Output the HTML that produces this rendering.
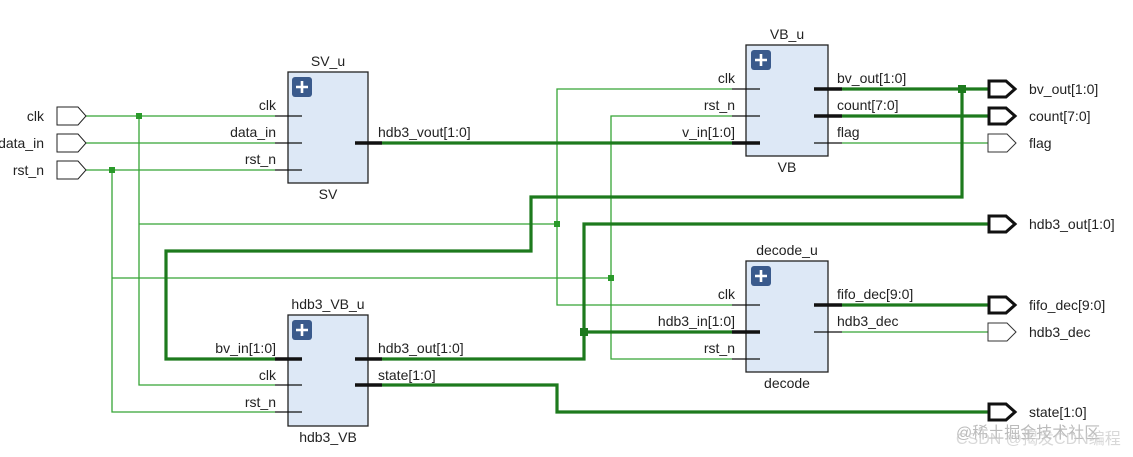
<!DOCTYPE html>
<html><head><meta charset="utf-8"><style>
html,body{margin:0;padding:0;background:#fff;}
svg{display:block}
text{font-family:"Liberation Sans","Noto Sans CJK SC",sans-serif;font-size:14px;fill:#222}
.t{stroke:#35a535;stroke-width:1.3;fill:none}
.T{stroke:#1d7a1d;stroke-width:3.2;fill:none}
.pin{stroke:#111;stroke-width:1.2}
.PIN{stroke:#111;stroke-width:3.5}
.box{fill:#dde8f6;stroke:#222;stroke-width:1.3}
.r{text-anchor:end}
.m{text-anchor:middle}
</style></head><body>
<svg width="1133" height="457" viewBox="0 0 1133 457" xmlns="http://www.w3.org/2000/svg">
<defs>
<g id="plus"><rect x="0" y="0" width="20" height="20" rx="3" fill="#3a5a8c"/><path d="M10 4v12M4 10h12" stroke="#fff" stroke-width="2.6"/></g>
</defs>

<path class="t" d="M86 116H275M86 143H275M86 170H275"/>
<path class="t" d="M139 116V385H275"/>
<path class="t" d="M112 170V412H275"/>
<path class="t" d="M139 224H557"/>
<path class="t" d="M112 278H611"/>
<path class="t" d="M732 89H557V305H732"/>
<path class="t" d="M732 116H611V359H732"/>
<path class="t" d="M842 143H988"/>
<path class="t" d="M842 332H988"/>
<path class="T" d="M382 143H732"/>
<path class="T" d="M842 89H988"/>
<path class="T" d="M842 116H988"/>
<path class="T" d="M962 89V197H531V251H166V359H275"/>
<path class="T" d="M382 359H584V224H988"/>
<path class="T" d="M584 332H732"/>
<path class="T" d="M382 385H557V412H988"/>
<path class="T" d="M842 305H988"/>
<rect x="136" y="113" width="6" height="6" fill="#2a9a2a"/>
<rect x="109" y="167" width="6" height="6" fill="#2a9a2a"/>
<rect x="554" y="221" width="6" height="6" fill="#2a9a2a"/>
<rect x="608" y="275" width="6" height="6" fill="#2a9a2a"/>
<rect x="958" y="85" width="8" height="8" fill="#1d7a1d"/>
<rect x="580" y="328" width="8" height="8" fill="#1d7a1d"/>

<g fill="#fff" stroke="#222" stroke-width="1">
<path d="M57 107H78L86 116L78 125H57Z"/>
<path d="M57 134H78L86 143L78 152H57Z"/>
<path d="M57 161H78L86 170L78 179H57Z"/>
</g>
<text x="44" y="121" class="r">clk</text>
<text x="44" y="148" class="r">data_in</text>
<text x="44" y="175" class="r">rst_n</text>

<g fill="#fff" stroke="#111" stroke-width="3">
<path d="M989 81H1006L1015 89L1006 97H989Z"/>
<path d="M989 108H1006L1015 116L1006 124H989Z"/>
<path d="M989 216H1006L1015 224L1006 232H989Z"/>
<path d="M989 297H1006L1015 305L1006 313H989Z"/>
<path d="M989 404H1006L1015 412L1006 420H989Z"/>
</g>
<g fill="#fff" stroke="#333" stroke-width="1">
<path d="M988 134H1007L1016 143L1007 152H988Z"/>
<path d="M988 323H1007L1016 332L1007 341H988Z"/>
</g>
<text x="1029" y="94">bv_out[1:0]</text>
<text x="1029" y="121">count[7:0]</text>
<text x="1029" y="148">flag</text>
<text x="1029" y="229">hdb3_out[1:0]</text>
<text x="1029" y="310">fifo_dec[9:0]</text>
<text x="1029" y="337">hdb3_dec</text>
<text x="1029" y="417">state[1:0]</text>

<rect class="box" x="288" y="72" width="80" height="111"/>
<use href="#plus" x="292" y="77"/>
<path class="pin" d="M275 116H302M275 143H302M275 170H302"/>
<path class="PIN" d="M355 143H382"/>
<text x="328" y="66" class="m">SV_u</text>
<text x="328" y="199" class="m">SV</text>
<text x="276" y="110" class="r">clk</text>
<text x="276" y="137" class="r">data_in</text>
<text x="276" y="164" class="r">rst_n</text>
<text x="378" y="137">hdb3_vout[1:0]</text>

<rect class="box" x="746" y="45" width="82" height="111"/>
<use href="#plus" x="751" y="50"/>
<path class="pin" d="M732 89H760M732 116H760M814 143H842"/>
<path class="PIN" d="M732 143H760M814 89H842M814 116H842"/>
<text x="787" y="39" class="m">VB_u</text>
<text x="787" y="172" class="m">VB</text>
<text x="735" y="83" class="r">clk</text>
<text x="735" y="110" class="r">rst_n</text>
<text x="735" y="137" class="r">v_in[1:0]</text>
<text x="837" y="83">bv_out[1:0]</text>
<text x="837" y="110">count[7:0]</text>
<text x="837" y="137">flag</text>

<rect class="box" x="288" y="315" width="80" height="111"/>
<use href="#plus" x="292" y="320"/>
<path class="pin" d="M275 385H302M275 412H302"/>
<path class="PIN" d="M275 359H302M355 359H382M355 385H382"/>
<text x="328" y="309" class="m">hdb3_VB_u</text>
<text x="328" y="442" class="m">hdb3_VB</text>
<text x="276" y="353" class="r">bv_in[1:0]</text>
<text x="276" y="380" class="r">clk</text>
<text x="276" y="407" class="r">rst_n</text>
<text x="378" y="353">hdb3_out[1:0]</text>
<text x="378" y="380">state[1:0]</text>

<rect class="box" x="746" y="261" width="82" height="111"/>
<use href="#plus" x="751" y="266"/>
<path class="pin" d="M732 305H760M732 359H760M814 332H842"/>
<path class="PIN" d="M732 332H760M814 305H842"/>
<text x="787" y="255" class="m">decode_u</text>
<text x="787" y="388" class="m">decode</text>
<text x="735" y="299" class="r">clk</text>
<text x="735" y="326" class="r">hdb3_in[1:0]</text>
<text x="735" y="353" class="r">rst_n</text>
<text x="837" y="299">fifo_dec[9:0]</text>
<text x="837" y="326">hdb3_dec</text>

<text x="956" y="438" style="fill:#bbb;font-size:16px">@稀土掘金技术社区</text>
<text x="956" y="444" style="fill:#c8c8c8;font-size:16px;opacity:.7">CSDN @揭发CDN编程</text>
</svg>
</body></html>
